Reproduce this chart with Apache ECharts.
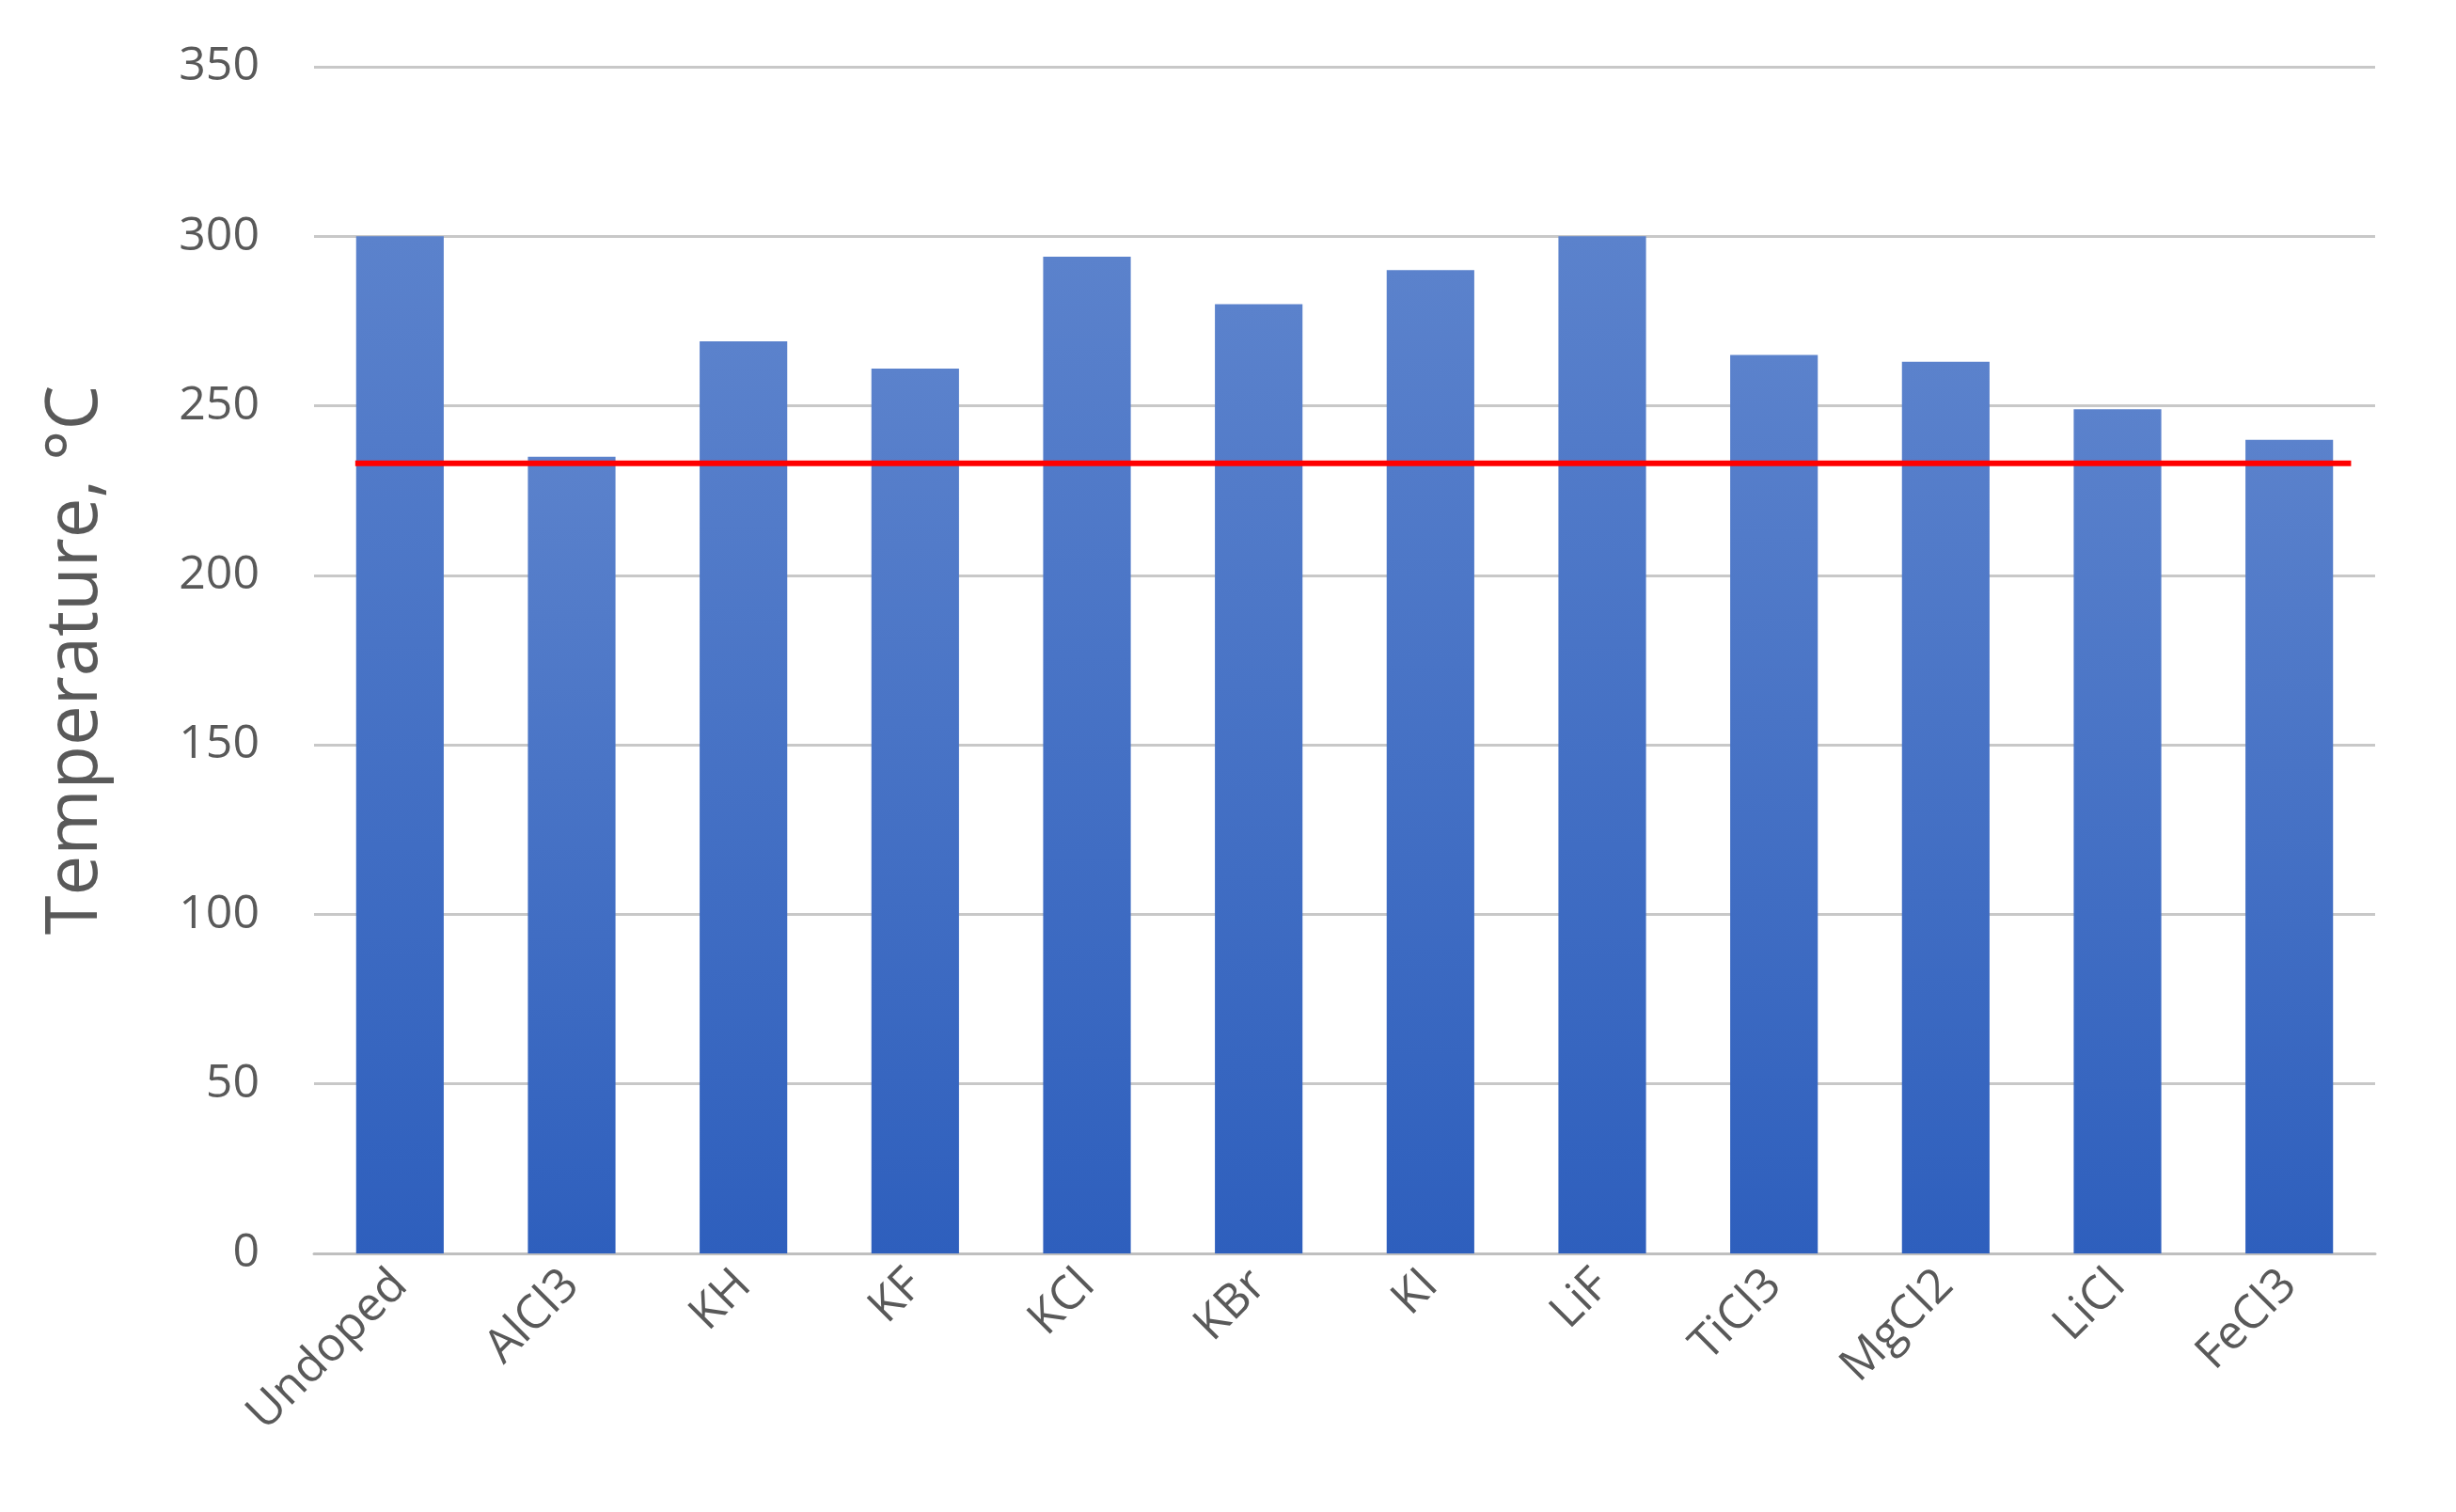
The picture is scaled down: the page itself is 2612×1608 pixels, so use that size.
<!DOCTYPE html><html><head><meta charset="utf-8"><script src="https://cdn.jsdelivr.net/npm/echarts@6/dist/echarts.min.js"></script>
<style>html,body{margin:0;background:#fff}#c{width:2612px;height:1608px}</style></head><body><div id="c"></div><script>
const categories=['Undoped','AlCl3','KH','KF','KCl','KBr','KI','LiF','TiCl3','MgCl2','LiCl','FeCl3'];
const temps=[300,235,269,261,294,280,290,300,265,263,249,240];
const threshold=233;
const lineSpan=[0.24,11.86];
const yTicks={min:0,max:350,interval:50};
const chart=echarts.init(document.getElementById('c'));
chart.setOption({
 grid:{left:334,right:86,top:71,bottom:275,containLabel:false},
 xAxis:[{type:'category',data:categories,axisTick:{show:false},axisLine:{lineStyle:{color:'#bfbfbf',width:3}},
  axisLabel:{rotate:45,fontSize:50,color:'#595959',fontFamily:'Open Sans',margin:26,interval:0}},
  {type:'value',min:0,max:12,show:false}],
 yAxis:{type:'value',min:yTicks.min,max:yTicks.max,interval:yTicks.interval,
  name:'Temperature, °C',nameLocation:'middle',nameGap:215,nameTextStyle:{fontSize:76,color:'#595959',fontFamily:'Open Sans'},
  axisLabel:{fontSize:50,color:'#595959',fontFamily:'Open Sans',margin:58},
  splitLine:{lineStyle:{color:'#c8c8c8',width:3}},axisLine:{show:false},axisTick:{show:false}},
 series:[{type:'bar',data:temps,barWidth:'51%',
   itemStyle:{color:new echarts.graphic.LinearGradient(0,0,0,1,[{offset:0,color:'#5b82cc'},{offset:1,color:'#2e5fbd'}])}},
  {type:'line',xAxisIndex:1,data:lineSpan.map(x=>[x,threshold]),symbol:'none',lineStyle:{color:'#ff0000',width:6},z:5}]
});
</script></body></html>
